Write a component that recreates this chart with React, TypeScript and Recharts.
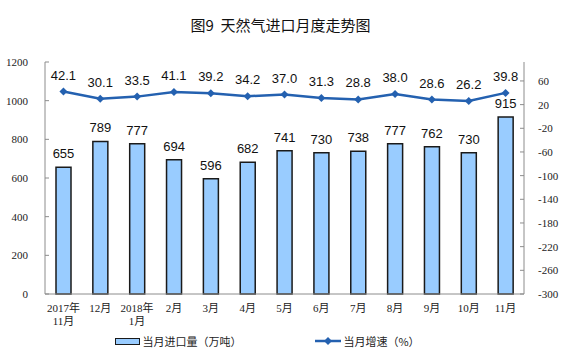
import React from 'react';
import {
  ComposedChart,
  Bar,
  Line,
  XAxis,
  YAxis,
  LabelList,
} from 'recharts';

// 月份 / 当月进口量（万吨） / 当月增速（%）
const months = ['2017年\n11月', '12月', '2018年\n1月', '2月', '3月', '4月', '5月', '6月', '7月', '8月', '9月', '10月', '11月'];
const importVolume = [655, 789, 777, 694, 596, 682, 741, 730, 738, 777, 762, 730, 915];
const growthRate = [42.1, 30.1, 33.5, 41.1, 39.2, 34.2, 37.0, 31.3, 28.8, 38.0, 28.6, 26.2, 39.8];

const leftTicks = [0, 200, 400, 600, 800, 1000, 1200];
const rightTicks = [-300, -260, -220, -180, -140, -100, -60, -20, 20, 60];

const BAR_FILL = '#99ccff';
const LINE_COLOR = '#2461b0';
const AXIS_COLOR = '#8c8c8c';

const data = months.map((m, i) => ({
  month: m,
  volume: importVolume[i],
  growth: growthRate[i],
}));

const serif = '"Liberation Serif", "Noto Sans CJK SC", serif';
const cjk = '"Noto Sans CJK SC", sans-serif';

const MonthTick = (props: any) => {
  const { x, y, payload } = props;
  const lines = String(payload.value).split('\n');
  return (
    <g transform={`translate(${x},${y})`}>
      {lines.map((l, i) => (
        <text key={i} x={0} y={i * 13} dy={4} textAnchor="middle" fontSize={11} fill="#222" fontFamily={serif}>
          {l}
        </text>
      ))}
    </g>
  );
};

const Diamond = (props: any) => {
  const { cx, cy } = props;
  if (cx == null || cy == null) return null;
  const s = 4;
  return <path d={`M${cx},${cy - s}L${cx + s},${cy}L${cx},${cy + s}L${cx - s},${cy}Z`} fill={LINE_COLOR} />;
};

const LegendBox = () => (
  <div
    style={{
      position: 'absolute',
      top: 333,
      left: 0,
      width: 561,
      boxSizing: 'border-box',
      paddingRight: 26,
      display: 'flex',
      justifyContent: 'center',
      fontFamily: cjk,
      fontSize: 11,
      color: '#222',
    }}
  >
    <div style={{ display: 'flex', alignItems: 'center', marginRight: 74 }}>
      <span style={{ display: 'inline-block', width: 23, height: 5, background: BAR_FILL, border: '1.5px solid #1a1a1a', marginRight: 2 }} />
      <span>当月进口量（万吨）</span>
    </div>
    <div style={{ display: 'flex', alignItems: 'center' }}>
      <svg width={26} height={10} style={{ marginRight: 2 }}>
        <line x1={0} y1={5} x2={26} y2={5} stroke={LINE_COLOR} strokeWidth={2.5} />
        <path d="M13,1L17,5L13,9L9,5Z" fill={LINE_COLOR} />
      </svg>
      <span>当月增速（%）</span>
    </div>
  </div>
);

export default function App() {
  return (
    <div style={{ position: 'absolute', left: 0, top: 0, width: 561, height: 364, background: '#fff' }}>
      <div
        style={{
          position: 'absolute',
          top: 14,
          left: 0,
          width: 561,
          textAlign: 'center',
          fontFamily: cjk,
          fontSize: 15,
          color: '#111',
        }}
      >
        图9&nbsp;&nbsp;天然气进口月度走势图
      </div>
      <ComposedChart
        width={561}
        height={364}
        data={data}
        margin={{ top: 62, right: 0, bottom: 40, left: 0 }}
        style={{ position: 'absolute', left: 0, top: 0 }}
      >
        <XAxis
          dataKey="month"
          tick={<MonthTick />}
          tickLine={false}
          axisLine={{ stroke: AXIS_COLOR }}
          interval={0}
          height={30}
          tickMargin={8}
        />
        <YAxis
          yAxisId="left"
          domain={[0, 1200]}
          ticks={leftTicks}
          width={45}
          axisLine={{ stroke: AXIS_COLOR }}
          tickLine={{ stroke: AXIS_COLOR }}
          tickSize={-4}
          tickMargin={21}
          tick={{ fontSize: 11, fill: '#222', fontFamily: serif }}
        />
        <YAxis
          yAxisId="right"
          orientation="right"
          domain={[-300, 92]}
          ticks={rightTicks}
          width={37}
          axisLine={{ stroke: AXIS_COLOR }}
          tickLine={{ stroke: AXIS_COLOR }}
          tickSize={-4}
          tickMargin={18}
          tick={{ fontSize: 11, fill: '#222', fontFamily: serif }}
          allowDataOverflow
        />
        <Bar
          yAxisId="left"
          dataKey="volume"
          fill={BAR_FILL}
          stroke="#1a1a1a"
          strokeWidth={1.5}
          barSize={15}
          isAnimationActive={false}
        >
          <LabelList dataKey="volume" position="top" offset={9} fontSize={13} fill="#111" fontFamily='"Liberation Sans", Arial, sans-serif' />
        </Bar>
        <Line
          yAxisId="right"
          dataKey="growth"
          stroke={LINE_COLOR}
          strokeWidth={2.5}
          dot={<Diamond />}
          activeDot={false}
          isAnimationActive={false}
        >
          <LabelList
            dataKey="growth"
            position="top"
            offset={12}
            fontSize={13}
            fill="#111"
            fontFamily='"Liberation Sans", Arial, sans-serif'
            formatter={(v: any) => Number(v).toFixed(1)}
          />
        </Line>
      </ComposedChart>
      <LegendBox />
    </div>
  );
}
